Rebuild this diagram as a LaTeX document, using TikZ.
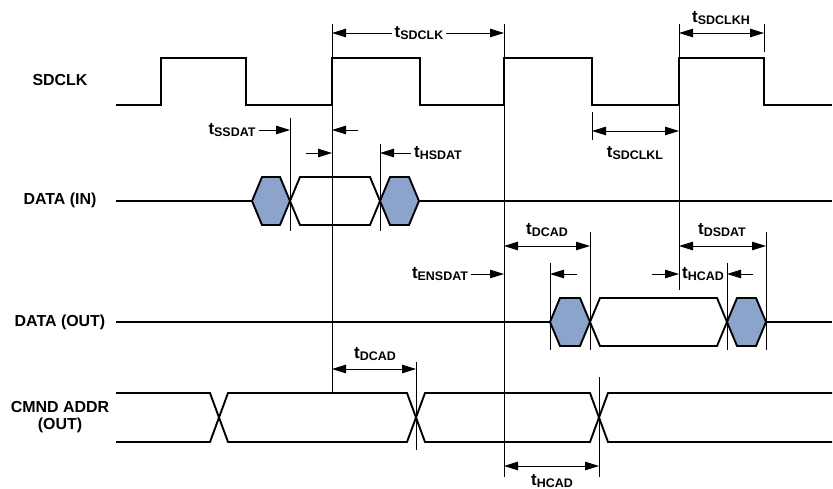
\documentclass[tikz,border=0pt]{standalone}
\usepackage{fontspec}
\setmainfont{Liberation Sans}
\usepackage{tikz}
\usetikzlibrary{arrows.meta,calc}
\definecolor{hexblue}{HTML}{8CA3CC}
\newcommand{\tsub}[1]{{\fontsize{17}{17}\selectfont t}\raisebox{-2.5bp}{\fontsize{12.5}{12.5}\selectfont #1}}
\newcommand{\busbox}[4]{\draw[sig,fill=#4] (#1,#3) -- ({#1+10},{#3-24}) -- ({#2-10},{#3-24}) -- (#2,#3) -- ({#2-10},{#3+24}) -- ({#1+10},{#3+24}) -- cycle;}

\begin{document}
\begin{tikzpicture}[x=1bp, y=-1bp, font=\bfseries,
  sig/.style={line width=1.9bp, line join=miter},
  tick/.style={line width=0.9bp},
  dim/.style={line width=0.9bp, -{Triangle[length=14bp,width=8.5bp]}},
  dimboth/.style={line width=0.9bp, {Triangle[length=14bp,width=8.5bp]}-{Triangle[length=14bp,width=8.5bp]}},
  lbl/.style={font=\bfseries\fontsize{16}{17}\selectfont, align=center},
  tlbl/.style={inner sep=3bp}]
\useasboundingbox (0,0) rectangle (833,489);

% signal names
\node[lbl] (sdclk) at (60,80) {SDCLK};
\node[lbl] (datain) at (60,200) {DATA (IN)};
\node[lbl] (dataout) at (60,322) {DATA (OUT)};
\node[lbl] (cmnd) at (60,417) {CMND ADDR\\(OUT)};

% clock
\draw[sig] (116,105) \foreach \r/\f in {161/246, 332/420, 504/592, 679/764} { -- (\r,105) -- (\r,58) -- (\f,58) -- (\f,105) } -- (832,105);

% data in
\draw[sig] (116,201) -- (252,201);
\busbox{252}{290}{201}{hexblue}
\busbox{290}{380}{201}{white}
\busbox{380}{419}{201}{hexblue}
\draw[sig] (419,201) -- (832,201);

% data out
\draw[sig] (116,322) -- (550,322);
\busbox{550}{590}{322}{hexblue}
\busbox{590}{727}{322}{white}
\busbox{727}{766}{322}{hexblue}
\draw[sig] (766,322) -- (832,322);

% command address
\draw[sig] (116,393) -- (210,393) -- (228,442) -- (407,442) -- (425,393) -- (590,393) -- (608,442) -- (832,442);
\draw[sig] (116,442) -- (210,442) -- (228,393) -- (407,393) -- (425,442) -- (590,442) -- (608,393) -- (832,393);

% timing edges
\foreach \n/\x in {r2/332, r3/504, r4/679, f3/592, f4/764, ss/290, hs/380, dv/550, dd/590, dh/727, ds/766, ca/416, cb/599}
  \coordinate (\n) at (\x,0);
\foreach \n/\a/\b in {r2/24/393, r3/24/477, r4/24/290, f4/24/52, f3/112/140, ss/118/231, hs/144/231, dv/263/350, dd/232/350, dh/263/350, ds/232/350, ca/362/450, cb/377/477}
  \draw[tick] (\n |- 0,\a) -- (\n |- 0,\b);

% clock timings
\node[tlbl] (tsdclk) at (419,33) {\tsub{SDCLK}};
\draw[dim] (tsdclk.west) -- (tsdclk.west -| r2);
\draw[dim] (tsdclk.east) -- (tsdclk.east -| r3);
\node[tlbl] (tsdclkh) at (721,18) {\tsub{SDCLKH}};
\draw[dimboth] (r4 |- 0,33) -- (f4 |- 0,33);
\node[tlbl] (tsdclkl) at (635,153) {\tsub{SDCLKL}};
\draw[dimboth] (f3 |- 0,131) -- (r4 |- 0,131);

% data in timings
\node[tlbl] (tssdat) at (232,130) {\tsub{SSDAT}};
\draw[dim] (tssdat.east) -- (tssdat.east -| ss);
\draw[dim] ($(r2 |- tssdat)+(26,0)$) -- (r2 |- tssdat);
\node[tlbl] (thsdat) at (438,153) {\tsub{HSDAT}};
\draw[dim] ($(r2 |- thsdat)+(-26,0)$) -- (r2 |- thsdat);
\draw[dim] (thsdat.west) -- (thsdat.west -| hs);

% data out timings
\node[tlbl] (tdcada) at (547,230) {\tsub{DCAD}};
\draw[dimboth] (r3 |- 0,246) -- (dd |- 0,246);
\node[tlbl] (tdsdat) at (722,230) {\tsub{DSDAT}};
\draw[dimboth] (r4 |- 0,246) -- (ds |- 0,246);
\node[tlbl] (tensdat) at (440,274) {\tsub{ENSDAT}};
\draw[dim] (tensdat.east) -- (tensdat.east -| r3);
\draw[dim] ($(dv |- tensdat)+(27,0)$) -- (dv |- tensdat);
\node[tlbl] (thcada) at (703,274) {\tsub{HCAD}};
\draw[dim] ($(r4 |- thcada)+(-27,0)$) -- (r4 |- thcada);
\draw[dim] ($(dh |- thcada)+(26,0)$) -- (dh |- thcada);

% command address timings
\node[tlbl] (tdcadb) at (375,354) {\tsub{DCAD}};
\draw[dimboth] (r2 |- 0,369) -- (ca |- 0,369);
\node[tlbl] (thcadb) at (552,481) {\tsub{HCAD}};
\draw[dimboth] (r3 |- 0,466) -- (cb |- 0,466);
\end{tikzpicture}
\end{document}
